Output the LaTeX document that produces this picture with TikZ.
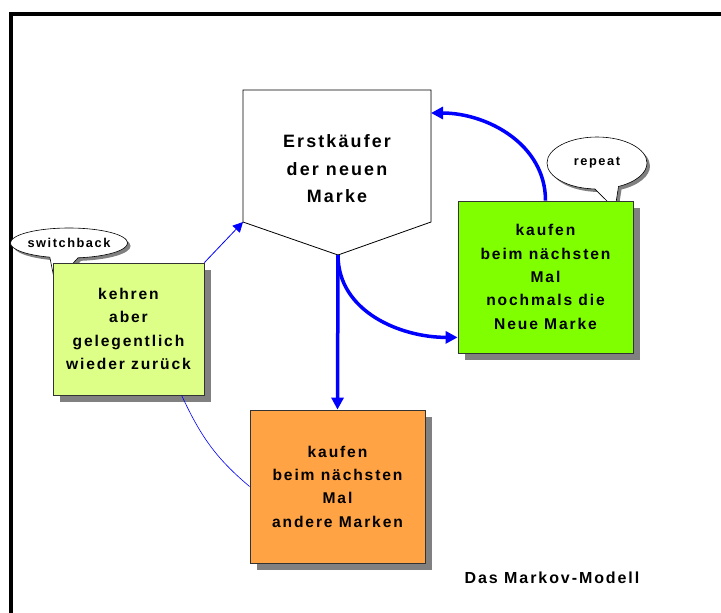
\documentclass[tikz,border=0pt]{standalone}
\usepackage{fontspec}
\setmainfont{Liberation Sans}[LetterSpace=12]
\usepackage{tikz}
\usetikzlibrary{arrows.meta, positioning, shapes.callouts, shadows, calc}

\definecolor{boxyellow}{HTML}{DDFF88}
\definecolor{boxgreen}{HTML}{80FF00}
\definecolor{boxorange}{HTML}{FFA344}

\begin{document}
\begin{tikzpicture}[
    x=1pt, y=-1pt,
    every node/.style={font=\bfseries, align=center},
    box/.style={rectangle, draw=black!80, line width=0.8pt, inner sep=0pt,
                font=\fontsize{15.6}{23.3}\selectfont\bfseries,
                drop shadow={shadow xshift=7pt, shadow yshift=-7pt,
                             fill=gray, opacity=1}},
    bback/.style={box, fill=boxyellow, minimum width=151pt, minimum height=132pt},
    brep/.style={box, fill=boxgreen, minimum width=175pt, minimum height=152pt},
    bother/.style={box, fill=boxorange, minimum width=175pt, minimum height=153pt},
    bubble/.style={ellipse callout, draw=black, fill=white, line width=0.6pt,
                   inner sep=0pt, callout pointer arc=28,
                   font=\fontsize{12.8}{15}\selectfont\bfseries,
                   drop shadow={shadow xshift=3pt, shadow yshift=-3pt,
                                fill=gray, opacity=1}},
    mainlbl/.style={font=\fontsize{17.9}{27.5}\selectfont\bfseries},
    thickarr/.style={blue, line width=3.5pt, -{Triangle[length=12pt, width=12pt]}},
    thinarr/.style={blue, line width=0.8pt, -{Triangle[length=10pt, width=10pt]}},
    thinline/.style={blue, line width=0.6pt}
  ]

  \useasboundingbox (0,0) rectangle (721,613);

  %% Frame
  \draw[line width=4pt] (9,14) -- (721,14);
  \draw[line width=4pt] (11,14) -- (11,613);

  %% Speech bubbles
  \node[bubble, minimum width=108pt, minimum height=30pt,
        callout absolute pointer={(55,283)}] (sb) at (69,243) {switchback};
  \node[bubble, minimum width=100pt, minimum height=52pt,
        callout absolute pointer={(615,209)}] (rp) at (597,163) {repeat};

  %% Boxes
  \node[bback]  (back)  at (128.5,329) {kehren\\aber\\gelegentlich\\wieder zurück};
  \node[brep]   (rep)   at (545.5,277) {kaufen\\beim nächsten\\Mal\\nochmals die\\Neue Marke};
  \node[bother] (other) at (337.5,486.5) {kaufen\\beim nächsten\\Mal\\andere Marken};

  %% Pentagon
  \coordinate (pTL)  at (243,90);
  \coordinate (pTR)  at (431,90);
  \coordinate (pR)   at (431,222);
  \coordinate (pTip) at (338,255);
  \coordinate (pL)   at (243,222);
  \coordinate (pIn)  at (431,113);
  \fill[gray, shift={(7,7)}] (pTL) -- (pTR) -- (pR) -- (pTip) -- (pL) -- cycle;
  \draw[fill=white, line width=0.8pt] (pTL) -- (pTR) -- (pR) -- (pTip) -- (pL) -- cycle;
  \node[mainlbl] (erst) at (337,169) {Erstkäufer\\der neuen\\Marke};

  %% Connectors
  \coordinate (repIn)   at ([yshift=16pt]rep.south west);
  \coordinate (backOut) at ($(back.south)!0.7!(back.south east)$);

  \draw[thickarr] (pTip) -- (other.north);
  \draw[thickarr] (pTip) to[out=-90, in=180] (repIn);
  \draw[thickarr] (rep.north) to[out=90, in=0] (pIn);
  \draw[thinarr]  (back.north east) -- (pL);
  \draw[thinline] (backOut) to[out=-65, in=140] (other.west);

  %% Title
  \node[font=\fontsize{16}{19}\selectfont\bfseries] (titel) at (552,578) {Das Markov-Modell};

\end{tikzpicture}
\end{document}
